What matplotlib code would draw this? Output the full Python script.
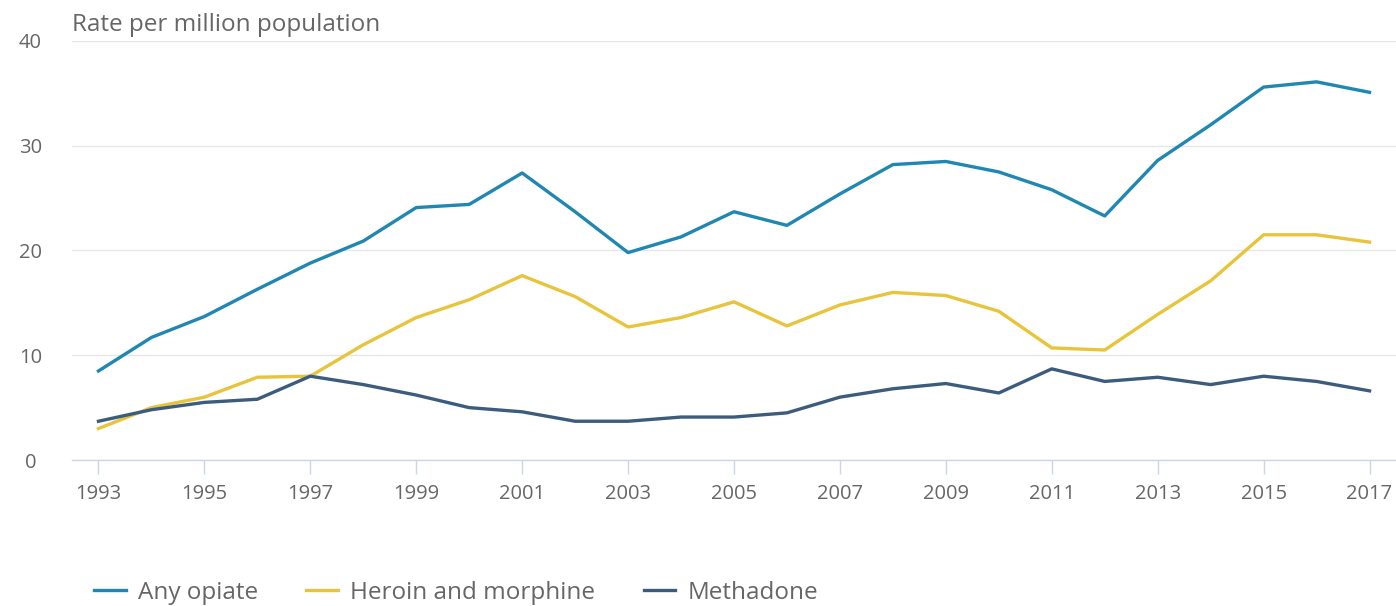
import matplotlib
matplotlib.use("Agg")
import matplotlib.pyplot as plt

years = list(range(1993, 2018))
any_opiate = [8.5, 11.7, 13.7, 16.3, 18.8, 20.9, 24.1, 24.4, 27.4, 23.7, 19.8, 21.3, 23.7,
              22.4, 25.4, 28.2, 28.5, 27.5, 25.8, 23.3, 28.6, 32.0, 35.6, 36.1, 35.1]
heroin_morphine = [3.0, 5.0, 6.0, 7.9, 8.0, 11.0, 13.6, 15.3, 17.6, 15.6, 12.7, 13.6, 15.1,
                   12.8, 14.8, 16.0, 15.7, 14.2, 10.7, 10.5, 13.9, 17.1, 21.5, 21.5, 20.8]
methadone = [3.7, 4.8, 5.5, 5.8, 8.0, 7.2, 6.2, 5.0, 4.6, 3.7, 3.7, 4.1, 4.1,
             4.5, 6.0, 6.8, 7.3, 6.4, 8.7, 7.5, 7.9, 7.2, 8.0, 7.5, 6.6]
series_names = ["Any opiate", "Heroin and morphine", "Methadone"]
colors = ["#1f87b2", "#e8c33c", "#3c5c7e"]
xticks = list(range(1993, 2018, 2))
yticks = [0, 10, 20, 30, 40]

plt.rcParams['font.family'] = ['Open Sans', 'DejaVu Sans']

fig = plt.figure(figsize=(13.96, 6.06), dpi=100)
ax = fig.add_axes([72/1396, 1-460/606, 1-72/1396, (460-41)/606])

handles = []
for vals, name, c in zip([any_opiate, heroin_morphine, methadone], series_names, colors):
    h, = ax.plot(years, vals, color=c, lw=2.4, label=name, solid_joinstyle='round')
    handles.append(h)

ax.set_xlim(1992.5, 2017.5)
ax.set_ylim(0, 40)
ax.set_yticks(yticks)
ax.set_xticks(xticks)
ax.set_xticklabels([str(x) for x in xticks])
ax.grid(axis='y', color='#e6e6e6', lw=1)
ax.set_axisbelow(True)
for s in ['top', 'right', 'left']:
    ax.spines[s].set_visible(False)
ax.spines['bottom'].set_color('#ccd6eb')
ax.spines['bottom'].set_linewidth(1)
ax.tick_params(axis='x', colors='#ccd6eb', length=10, width=1, labelcolor='#666666',
               labelsize=14.5, pad=7)
ax.tick_params(axis='y', length=0, labelcolor='#666666', labelsize=14.5, pad=30)
for lab in ax.get_yticklabels():
    lab.set_horizontalalignment('center')

fig.text(72/1396, 1-25/606, "Rate per million population", fontsize=17.5,
         color='#666666', va='center', ha='left')

fig.legend(handles=handles, loc='center left', bbox_to_anchor=(94/1396, 1-593/606),
           ncol=3, frameon=False, fontsize=17.5, handlelength=1.3, handletextpad=0.5,
           columnspacing=2.0, borderpad=0, borderaxespad=0, labelcolor='#666666')

fig.savefig("out.png", dpi=100)
